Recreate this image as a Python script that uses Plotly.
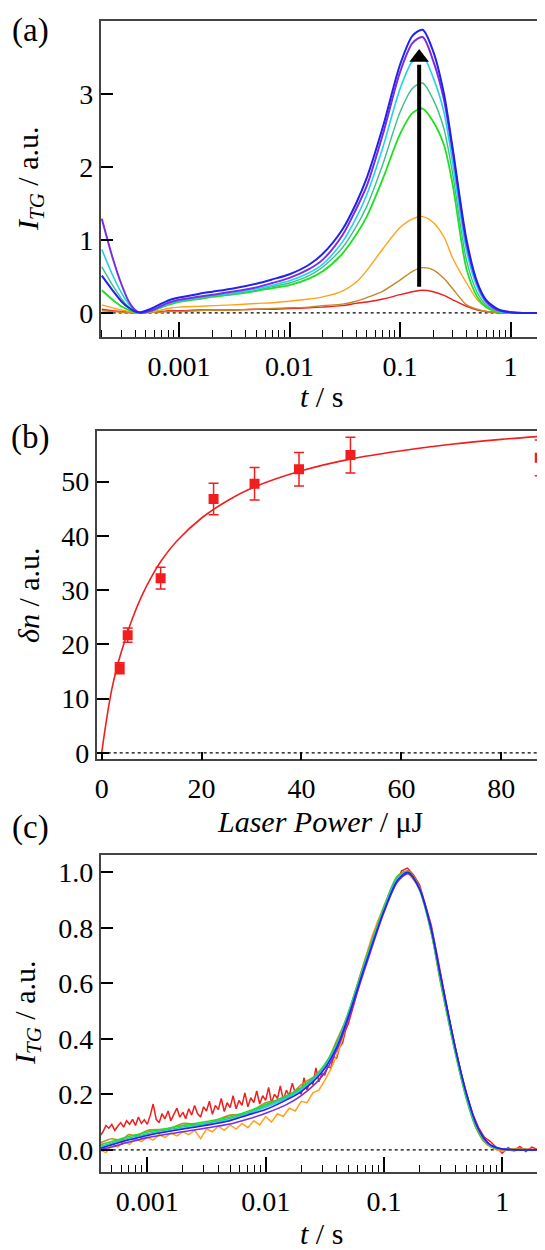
import numpy as np
import plotly.graph_objects as go

# ---------------- Panel (a): TG signals at increasing laser power ----------------
T_A = [2.0e-4, 2.5e-4, 3.0e-4, 3.5e-4, 4.0e-4, 4.5e-4, 5.0e-4, 6.0e-4, 7.0e-4, 8.0e-4,
       1.0e-3, 1.5e-3, 2.0e-3, 3.0e-3, 5.0e-3, 7.0e-3, 0.01, 0.015, 0.02, 0.03,
       0.04, 0.05, 0.07, 0.10, 0.13, 0.16, 0.20, 0.25, 0.30, 0.40,
       0.50, 0.60, 0.70, 0.80, 1.0, 1.3, 1.93]

A_RED = [0.05, 0.03, 0.02, 0.01, 0.0, 0.0, 0.01, 0.02, 0.02, 0.03,
         0.03, 0.04, 0.04, 0.04, 0.05, 0.05, 0.06, 0.07, 0.08, 0.10,
         0.13, 0.15, 0.19, 0.25, 0.29, 0.31, 0.29, 0.24, 0.18, 0.09,
         0.04, 0.02, 0.01, 0.0, 0.0, 0.0, 0.0]
A_BROWN = [0.03, 0.02, 0.01, 0.0, 0.0, 0.0, 0.0, 0.01, 0.01, 0.02,
           0.02, 0.03, 0.04, 0.04, 0.05, 0.06, 0.07, 0.08, 0.10, 0.12,
           0.16, 0.21, 0.30, 0.45, 0.57, 0.62, 0.59, 0.47, 0.33, 0.11,
           0.05, 0.02, 0.01, 0.0, 0.0, 0.0, 0.0]
A_ORANGE = [0.11, 0.07, 0.04, 0.02, 0.01, 0.0, 0.0, 0.02, 0.04, 0.06,
            0.08, 0.09, 0.10, 0.11, 0.13, 0.14, 0.16, 0.19, 0.22, 0.30,
            0.42, 0.58, 0.88, 1.17, 1.29, 1.32, 1.24, 1.04, 0.75, 0.41,
            0.18, 0.08, 0.04, 0.02, 0.01, 0.0, 0.0]
A_GREEN = [0.31, 0.18, 0.09, 0.04, 0.01, 0.0, 0.01, 0.04, 0.08, 0.11,
           0.15, 0.19, 0.22, 0.25, 0.30, 0.34, 0.38, 0.47, 0.57, 0.81,
           1.07, 1.32, 1.84, 2.45, 2.74, 2.80, 2.62, 2.30, 1.75, 0.60,
           0.22, 0.08, 0.03, 0.01, 0.0, 0.0, 0.0]
A_SEAGREEN = [0.63, 0.38, 0.20, 0.08, 0.02, 0.0, 0.01, 0.04, 0.08, 0.12,
              0.16, 0.20, 0.23, 0.26, 0.31, 0.36, 0.41, 0.51, 0.63, 0.89,
              1.18, 1.46, 2.04, 2.75, 3.08, 3.15, 2.92, 2.52, 1.90, 0.72,
              0.28, 0.11, 0.05, 0.02, 0.0, 0.0, 0.0]
A_CYAN = [0.87, 0.52, 0.28, 0.12, 0.03, 0.0, 0.01, 0.05, 0.09, 0.13,
          0.17, 0.21, 0.24, 0.27, 0.33, 0.38, 0.44, 0.55, 0.67, 0.97,
          1.30, 1.62, 2.27, 3.07, 3.45, 3.52, 3.22, 2.75, 2.05, 0.85,
          0.35, 0.14, 0.06, 0.02, 0.01, 0.0, 0.0]
A_PURPLE = [1.29, 0.76, 0.40, 0.16, 0.04, 0.0, 0.01, 0.05, 0.10, 0.14,
            0.18, 0.22, 0.25, 0.29, 0.35, 0.41, 0.48, 0.60, 0.73, 1.06,
            1.42, 1.74, 2.45, 3.30, 3.70, 3.78, 3.45, 2.92, 2.20, 0.95,
            0.40, 0.16, 0.07, 0.03, 0.01, 0.0, 0.0]
A_BLUE = [0.51, 0.31, 0.16, 0.07, 0.02, 0.01, 0.03, 0.08, 0.13, 0.17,
          0.21, 0.26, 0.29, 0.33, 0.40, 0.46, 0.53, 0.66, 0.81, 1.14,
          1.50, 1.85, 2.55, 3.40, 3.80, 3.88, 3.58, 3.00, 2.25, 1.00,
          0.42, 0.18, 0.09, 0.04, 0.01, 0.0, 0.0]

ARROW_T = [0.149, 0.149]
ARROW_Y = [0.36, 3.40]
ARROW_HEAD_Y = [3.50]

# ---------------- Panel (b): delta n vs laser power ----------------
POWER = [3.6, 5.2, 11.8, 22.4, 30.6, 39.5, 49.8, 87.7]
DN = [15.6, 21.7, 32.2, 46.8, 49.6, 52.3, 54.9, 54.4]
DN_ERR = [1.0, 1.3, 2.0, 2.9, 3.0, 3.1, 3.3, 3.3]
FIT_P = [0, 1, 2, 3, 4, 5, 6, 8, 10, 12, 15, 20, 25, 30, 40, 50, 60, 70, 80, 88.5]
FIT_DN = [0.0, 6.3, 11.6, 15.6, 18.8, 21.7, 24.4, 28.9, 32.5, 35.5, 39.0, 43.3,
          46.4, 48.8, 52.0, 54.2, 55.7, 56.9, 57.8, 58.4]

# ---------------- Panel (c): normalised TG signals ----------------
T_C_RED = [3.98e-4, 4.22e-4, 4.47e-4, 4.73e-4, 5.01e-4, 5.31e-4, 5.62e-4, 5.96e-4,
           6.31e-4, 6.68e-4, 7.08e-4, 7.50e-4, 7.94e-4, 8.41e-4, 8.91e-4, 9.44e-4,
           1.00e-3, 1.06e-3, 1.12e-3, 1.19e-3, 1.26e-3, 1.33e-3, 1.41e-3, 1.50e-3,
           1.58e-3, 1.68e-3, 1.78e-3, 1.88e-3, 2.00e-3, 2.11e-3, 2.24e-3, 2.37e-3,
           2.51e-3, 2.66e-3, 2.82e-3, 2.99e-3, 3.16e-3, 3.35e-3, 3.55e-3, 3.76e-3,
           3.98e-3, 4.22e-3, 4.47e-3, 4.73e-3, 5.01e-3, 5.31e-3, 5.62e-3, 5.96e-3,
           6.31e-3, 6.68e-3, 7.08e-3, 7.50e-3, 7.94e-3, 8.41e-3, 8.91e-3, 9.44e-3,
           0.0100, 0.0106, 0.0112, 0.0119, 0.0126, 0.0133, 0.0141, 0.0150,
           0.0158, 0.0168, 0.0178, 0.0188, 0.0200, 0.0211, 0.0224, 0.0237,
           0.0251, 0.0266, 0.0282, 0.0299, 0.0316, 0.0335, 0.0355, 0.0376,
           0.0398, 0.0422, 0.0447, 0.0473, 0.0501,
           0.0562, 0.0631, 0.0708, 0.0794, 0.0891, 0.100, 0.112, 0.126,
           0.141, 0.158, 0.178, 0.200, 0.224, 0.251, 0.282, 0.316,
           0.355, 0.398, 0.447, 0.501, 0.562, 0.631, 0.708, 0.794,
           0.891, 1.00, 1.12, 1.26, 1.41, 1.58, 1.78, 2.00, 2.09]
C_RED = [0.050, 0.065, 0.088, 0.078, 0.092, 0.070, 0.085, 0.098,
         0.082, 0.105, 0.092, 0.110, 0.088, 0.118, 0.095, 0.108,
         0.092, 0.125, 0.165, 0.110, 0.098, 0.130, 0.112, 0.140,
         0.105, 0.128, 0.150, 0.118, 0.135, 0.112, 0.148, 0.125,
         0.160, 0.130, 0.118, 0.155, 0.140, 0.175, 0.128, 0.160,
         0.145, 0.185, 0.138, 0.170, 0.152, 0.195, 0.148, 0.178,
         0.160, 0.205, 0.155, 0.188, 0.170, 0.212, 0.165, 0.195,
         0.178, 0.225, 0.170, 0.200, 0.185, 0.230, 0.180, 0.215,
         0.195, 0.240, 0.205, 0.222, 0.200, 0.260, 0.215, 0.250,
         0.235, 0.295, 0.245, 0.275, 0.270, 0.300, 0.295, 0.335,
         0.330, 0.370, 0.385, 0.430, 0.455,
         0.530, 0.610, 0.690, 0.750, 0.825, 0.865, 0.925, 0.960,
         1.005, 1.015, 0.990, 0.955, 0.885, 0.810, 0.700, 0.585,
         0.475, 0.375, 0.280, 0.200, 0.130, 0.080, 0.045, 0.030,
         0.008, -0.012, 0.008, -0.004, 0.012, -0.006, 0.010, 0.000, 0.008]

T_C_FINE = [3.98e-4, 4.47e-4, 5.01e-4, 5.62e-4, 6.31e-4, 7.08e-4, 7.94e-4, 8.91e-4,
            1.00e-3, 1.12e-3, 1.26e-3, 1.41e-3, 1.58e-3, 1.78e-3, 2.00e-3, 2.24e-3,
            2.51e-3, 2.82e-3, 3.16e-3, 3.55e-3, 3.98e-3, 4.47e-3, 5.01e-3, 5.62e-3,
            6.31e-3, 7.08e-3, 7.94e-3, 8.91e-3, 0.0100, 0.0112, 0.0126, 0.0141,
            0.0158, 0.0178, 0.0200, 0.0224, 0.0251, 0.0282, 0.0316, 0.0355,
            0.0398, 0.0447, 0.0501, 0.0631, 0.0794, 0.100, 0.126, 0.158,
            0.200, 0.251, 0.316, 0.398, 0.501, 0.631, 0.708, 0.794,
            0.891, 1.00, 1.12, 1.26, 1.41, 1.58, 1.78, 2.00, 2.09]
C_ORANGE = [0.000, -0.010, 0.020, 0.010, 0.030, 0.020, 0.040, 0.030,
            0.045, 0.035, 0.055, 0.045, 0.060, 0.050, 0.065, 0.055,
            0.070, 0.040, 0.075, 0.065, 0.085, 0.070, 0.090, 0.075,
            0.095, 0.080, 0.105, 0.090, 0.120, 0.100, 0.130, 0.120,
            0.150, 0.140, 0.175, 0.170, 0.205, 0.215, 0.250, 0.290,
            0.340, 0.400, 0.490, 0.630, 0.770, 0.880, 0.975, 1.000,
            0.945, 0.795, 0.570, 0.360, 0.185, 0.070, 0.035, 0.015,
            0.000, -0.005, 0.000, -0.005, 0.003, 0.000, -0.002, 0.000, 0.000]

T_C = [4.0e-4, 5.0e-4, 6.0e-4, 7.0e-4, 8.0e-4, 1.0e-3, 1.5e-3, 2.0e-3, 3.0e-3, 5.0e-3,
       7.0e-3, 0.01, 0.015, 0.02, 0.03, 0.04, 0.05, 0.07, 0.10, 0.13,
       0.16, 0.20, 0.25, 0.30, 0.40, 0.50, 0.60, 0.70, 0.80, 1.0, 1.3, 2.1]
C_BROWN = [0.025, 0.040, 0.035, 0.055, 0.050, 0.070, 0.075, 0.095, 0.090, 0.125,
           0.130, 0.170, 0.185, 0.235, 0.285, 0.395, 0.490, 0.690, 0.870, 0.985,
           1.005, 0.945, 0.790, 0.605, 0.355, 0.185, 0.080, 0.030, 0.010, 0.000, 0.005, 0.0]
C_GREEN = [0.018, 0.030, 0.040, 0.048, 0.054, 0.064, 0.078, 0.088, 0.100, 0.118,
           0.138, 0.163, 0.195, 0.225, 0.295, 0.385, 0.495, 0.685, 0.875, 0.985,
           1.0, 0.935, 0.785, 0.61, 0.35, 0.18, 0.08, 0.035, 0.013, 0.002, 0.0, 0.0]
C_SEAGREEN = [0.012, 0.024, 0.034, 0.042, 0.048, 0.058, 0.073, 0.082, 0.095, 0.113,
              0.133, 0.158, 0.19, 0.22, 0.29, 0.38, 0.49, 0.68, 0.87, 0.98,
              1.0, 0.94, 0.79, 0.62, 0.36, 0.19, 0.088, 0.038, 0.015, 0.003, 0.0, 0.0]
C_CYAN = [0.008, 0.020, 0.030, 0.038, 0.044, 0.054, 0.068, 0.077, 0.090, 0.108,
          0.128, 0.153, 0.185, 0.215, 0.285, 0.375, 0.485, 0.675, 0.865, 0.975,
          1.0, 0.94, 0.80, 0.625, 0.365, 0.195, 0.09, 0.04, 0.015, 0.003, 0.0, 0.0]
C_PURPLE = [0.0, 0.010, 0.020, 0.028, 0.034, 0.044, 0.057, 0.065, 0.077, 0.093,
            0.110, 0.132, 0.163, 0.195, 0.265, 0.36, 0.47, 0.66, 0.855, 0.965,
            0.995, 0.94, 0.80, 0.63, 0.37, 0.20, 0.095, 0.042, 0.017, 0.003, 0.0, 0.0]
C_BLUE = [0.005, 0.018, 0.028, 0.036, 0.042, 0.052, 0.066, 0.075, 0.087, 0.105,
          0.125, 0.145, 0.18, 0.21, 0.28, 0.37, 0.48, 0.67, 0.86, 0.97,
          1.0, 0.94, 0.80, 0.63, 0.37, 0.20, 0.095, 0.042, 0.017, 0.003, 0.0, 0.0]

TIME_TICKS = [0.001, 0.01, 0.1, 1]
TIME_TICKTEXT = ["0.001", "0.01", "0.1", "1"]

# ---------------- styling ----------------
COL = {
    "red": "#f01e1e", "brown": "#c08a2a", "orange": "#ffa21a", "green": "#1ee01e",
    "seagreen": "#3cc087", "cyan": "#22d2ec", "purple": "#7a2ee0", "blue": "#2222ee",
}
FONT = "Liberation Serif"
OFF = 8  # default page body margin
W, H = 545 - OFF, 1250 - OFF


def px_x(p):
    return (p - OFF) / W


def px_y(p):
    return 1 - (p - OFF) / H


fig = go.Figure()

a_series = [("red", A_RED, 1.4), ("brown", A_BROWN, 1.4), ("orange", A_ORANGE, 1.4),
            ("green", A_GREEN, 1.8), ("seagreen", A_SEAGREEN, 1.4), ("cyan", A_CYAN, 1.6),
            ("purple", A_PURPLE, 2.0), ("blue", A_BLUE, 2.0)]
for name, vals, w in a_series:
    fig.add_trace(go.Scatter(x=T_A, y=vals, mode="lines",
                             line=dict(color=COL[name], width=w, shape="spline", smoothing=0.8),
                             xaxis="x", yaxis="y", showlegend=False))

# arrow (shaft + head)
fig.add_trace(go.Scatter(x=ARROW_T, y=ARROW_Y, mode="lines", line=dict(color="black", width=4),
                         xaxis="x", yaxis="y", showlegend=False))
fig.add_trace(go.Scatter(x=ARROW_T[:1], y=ARROW_HEAD_Y, mode="markers",
                         marker=dict(symbol="triangle-up", size=17, color="black"),
                         xaxis="x", yaxis="y", showlegend=False))

fig.add_trace(go.Scatter(x=FIT_P, y=FIT_DN, mode="lines", line=dict(color="#f01e1e", width=1.6, shape="spline"),
                         xaxis="x2", yaxis="y2", showlegend=False))
fig.add_trace(go.Scatter(x=POWER, y=DN, mode="markers",
                         marker=dict(symbol="square", size=10, color="#f01e1e"),
                         error_y=dict(type="data", array=DN_ERR, color="#f01e1e", thickness=1.5, width=5),
                         xaxis="x2", yaxis="y2", showlegend=False))

fig.add_trace(go.Scatter(x=T_C_RED, y=C_RED, mode="lines", line=dict(color=COL["red"], width=1.5),
                         xaxis="x3", yaxis="y3", showlegend=False))
fig.add_trace(go.Scatter(x=T_C_FINE, y=C_ORANGE, mode="lines", line=dict(color=COL["orange"], width=1.5),
                         xaxis="x3", yaxis="y3", showlegend=False))
c_series = [("brown", C_BROWN), ("green", C_GREEN), ("seagreen", C_SEAGREEN), ("cyan", C_CYAN),
            ("purple", C_PURPLE), ("blue", C_BLUE)]
for name, vals in c_series:
    fig.add_trace(go.Scatter(x=T_C, y=vals, mode="lines",
                             line=dict(color=COL[name], width=1.6, shape="spline", smoothing=0.8),
                             xaxis="x3", yaxis="y3", showlegend=False))

axis_common = dict(showline=True, linecolor="#444", linewidth=1.6, mirror=True, ticks="inside",
                   tickcolor="black", tickwidth=1.5, showgrid=False, zeroline=False, automargin=False,
                   tickfont=dict(family=FONT, size=28, color="black"))

minor_log = dict(ticks="inside", ticklen=7, tickwidth=1.3, tickcolor="black", dtick="D1", showgrid=False)

fig.update_layout(
    width=W, height=H, margin=dict(l=0, r=0, t=0, b=0, autoexpand=False),
    paper_bgcolor="white", plot_bgcolor="white",
    xaxis=dict(axis_common, type="log", range=[-3.709, 0.285], domain=[px_x(100.7), px_x(542)],
               tickmode="array", tickvals=TIME_TICKS, ticktext=TIME_TICKTEXT, ticklen=15,
               ticklabelstandoff=4, minor=minor_log, anchor="y"),
    yaxis=dict(axis_common, range=[-0.33, 4.0], domain=[px_y(337), px_y(21)],
               tickvals=[0, 1, 2, 3], ticklen=12, anchor="x"),
    xaxis2=dict(axis_common, range=[-1.0, 88.75], domain=[px_x(96.7), 1.0],
                tickvals=[0, 20, 40, 60, 80], ticklen=8, ticklabelstandoff=3, anchor="y2"),
    yaxis2=dict(axis_common, range=[-1.2, 59.4], domain=[px_y(759.3), px_y(430.7)],
                tickvals=[0, 10, 20, 30, 40, 50], ticklen=12, anchor="x2"),
    xaxis3=dict(axis_common, type="log", range=[-3.394, 0.336], domain=[px_x(100.7), px_x(542)],
                tickmode="array", tickvals=TIME_TICKS, ticktext=TIME_TICKTEXT, ticklen=15,
                ticklabelstandoff=4, minor=minor_log, anchor="y3"),
    yaxis3=dict(axis_common, range=[-0.078, 1.062], domain=[px_y(1171.5), px_y(855)],
                tickvals=[0, 0.2, 0.4, 0.6, 0.8, 1.0], tickformat=".1f", ticklen=12, anchor="x3"),
)

# dotted zero lines
for xr, yr, x0, x1 in [("x domain", "y", 0, 1), ("x2", "y2", 0, 88.75), ("x3 domain", "y3", 0, 1)]:
    fig.add_shape(type="line", xref=xr, yref=yr, x0=x0, x1=x1, y0=0, y1=0,
                  line=dict(color="black", width=1.2, dash="dot"), layer="below")

texts = [
    ("(a)", 30, 31, 0, 33), ("(b)", 30, 437, 0, 33), ("(c)", 30, 827, 0, 33),
    ("<i>I</i><sub><i>TG</i></sub> / a.u.", 30, 179, -90, 30),
    ("<i>t</i> / s", 321, 396, 0, 30),
    ("<i>δn</i> / a.u.", 28, 595, -90, 30),
    ("<i>Laser Power</i> / μJ", 320, 821, 0, 30),
    ("<i>I</i><sub><i>TG</i></sub> / a.u.", 27, 1013, -90, 30),
    ("<i>t</i> / s", 321, 1233, 0, 30),
]
for txt, x, y, ang, size in texts:
    fig.add_annotation(x=px_x(x), y=px_y(y), xref="paper", yref="paper", text=txt, showarrow=False,
                       textangle=ang, xanchor="center", yanchor="middle",
                       font=dict(family=FONT, size=size, color="black"))

fig.write_html("out.html")
